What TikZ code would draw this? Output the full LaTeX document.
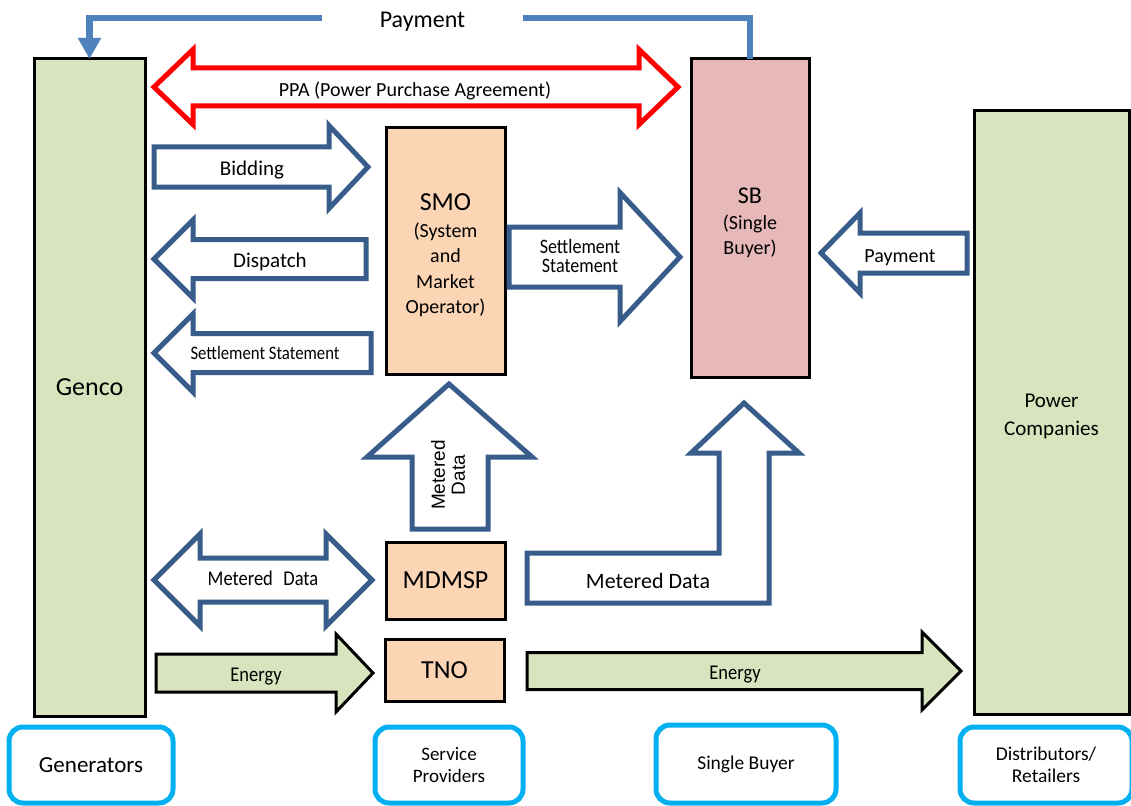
\documentclass[tikz,border=0pt]{standalone}
\usepackage{fontspec}
\setmainfont{Carlito}
\newfontfamily\condfont{Carlito}[FakeStretch=0.88]
\newfontfamily\arialfont{Liberation Sans}
\usepackage{tikz}
\usetikzlibrary{calc, arrows.meta}

\definecolor{gencogreen}{RGB}{215,228,189}
\definecolor{smopeach}{RGB}{252,213,181}
\definecolor{sbpink}{RGB}{230,185,184}
\definecolor{flowblue}{RGB}{56,93,138}
\definecolor{paymentblue}{RGB}{79,129,189}
\definecolor{rolecyan}{RGB}{0,176,240}

\newcommand{\fs}[2]{\fontsize{#1}{#2}\selectfont}

% style, tail, tip, shaft half width, head half width, head length
\newcommand{\flatarrow}[6]{%
	\draw [#1] ($(#2)+(0,{-(#4)})$) -- ($(#3)+({-(#6)},{-(#4)})$) -- ($(#3)+({-(#6)},{-(#5)})$) -- (#3)
		-- ($(#3)+({-(#6)},{#5})$) -- ($(#3)+({-(#6)},{#4})$) -- ($(#2)+(0,{#4})$) -- cycle;
}
% style, left tip, right tip, shaft half width, head half width, head length
\newcommand{\twinarrow}[6]{%
	\draw [#1] (#2) -- ($(#2)+({#6},{-(#5)})$) -- ($(#2)+({#6},{-(#4)})$) -- ($(#3)+({-(#6)},{-(#4)})$)
		-- ($(#3)+({-(#6)},{-(#5)})$) -- (#3) -- ($(#3)+({-(#6)},{#5})$) -- ($(#3)+({-(#6)},{#4})$)
		-- ($(#2)+({#6},{#4})$) -- ($(#2)+({#6},{#5})$) -- cycle;
}

\begin{document}
\begin{tikzpicture}[x=1pt, y=-1pt,
		entity/.style={draw, line width=3, outer sep=0, align=center},
		role/.style={draw=rolecyan, line width=5, rounded corners=14, fill=white, outer sep=0, align=center},
		flow/.style={draw=flowblue, line width=5, fill=white, line join=miter},
		ppa/.style={draw=red, line width=5, fill=white, line join=miter},
		energy/.style={draw=black, line width=3, fill=gencogreen, line join=miter},
		payline/.style={draw=paymentblue, line width=6.5}]
		
		\useasboundingbox (0,0) rectangle (1131,805);
		\clip (0,0) rectangle (1131,805);
		\fill [white] (0,0) rectangle (1131,805);
		
		% market participants
		\node [entity, fill=gencogreen, minimum width=111, minimum height=657, font=\fs{26}{30}] (genco) at (89.5,387.5) {Genco};
		\node [entity, fill=smopeach, minimum width=119, minimum height=246] (smo) at (445.5,251) {};
		\node [align=center, font=\fs{20}{25.5}] (smotxt) at ([yshift=-4.5pt]smo.center)
			{\fs{26}{28}SMO\\[1pt](System\\and\\Market\\Operator)};
		\node [entity, fill=sbpink, minimum width=118, minimum height=318] (sb) at (750,218) {};
		\node [align=center, font=\fs{20}{25}] (sbtxt) at ([yshift=-5pt]sb.center)
			{\fs{24}{26}SB\\[1pt](Single\\Buyer)};
		\node [entity, fill=gencogreen, minimum width=155, minimum height=603] (pc) at (1051.5,412.5) {};
		\node [align=center, font=\fs{21}{28}] (pctxt) at ([yshift=-4pt]pc.center) {Power\\Companies};
		\node [entity, fill=smopeach, minimum width=119, minimum height=77, font=\fs{26}{30}] (mdmsp) at (445.5,580.5) {MDMSP};
		\node [entity, fill=smopeach, minimum width=119, minimum height=62, font=\fs{26}{30}] (tno) at (444.5,670) {TNO};
		
		% roles
		\node [role, minimum width=164, minimum height=76, font=\fs{23}{26}] (generators) at (91,765) {Generators};
		\node [role, minimum width=148, minimum height=76, font=\fs{19}{22}] (providers) at (449,765) {Service\\Providers};
		\node [role, minimum width=180, minimum height=78, font=\fs{19.5}{22}] (buyer) at (746,764) {Single Buyer};
		\node [role, minimum width=172, minimum height=76, font=\fs{19.5}{22}] (retailers) at (1046,765) {Distributors/\\Retailers};
		
		% payment to Genco
		\node [minimum width=201, inner sep=0, font=\fs{24}{28}] (paytxt) at (422.5,22) {Payment};
		\draw [payline] (sb.north) |- ([yshift=4pt]paytxt.east);
		\draw [payline, -{Triangle[width=22pt, length=21pt]}] ([yshift=4pt]paytxt.west) -| (genco.north);
		
		% PPA
		\coordinate (ppa left) at (154,87);
		\coordinate (ppa right) at (678,87);
		\twinarrow{ppa}{ppa left}{ppa right}{19}{37.5}{39}
		\node [font=\fs{20}{24}] (ppatxt) at (415,90.5) {PPA (Power Purchase Agreement)};
		
		% Genco <-> SMO
		\coordinate (bid tail) at (154,167);
		\coordinate (bid tip) at (368,167);
		\flatarrow{flow}{bid tail}{bid tip}{20}{41.5}{39}
		\node [font=\fs{21}{24}] (bidtxt) at (252,170.5) {Bidding};
		
		\coordinate (dis tail) at (366,259);
		\coordinate (dis tip) at (154,259);
		\flatarrow{flow}{dis tail}{dis tip}{19.5}{39}{-39}
		\node [font=\fs{21}{24}] (distxt) at (270,261.5) {Dispatch};
		
		\coordinate (set tail) at (371,353);
		\coordinate (set tip) at (154,353);
		\flatarrow{flow}{set tail}{set tip}{19.5}{39}{-39}
		\node [font=\condfont\fs{19}{22}] (settxt) at (265,353) {Settlement Statement};
		
		% SMO -> SB, Power Companies -> SB
		\coordinate (sbset tail) at (509,257);
		\coordinate (sbset tip) at (680,257);
		\flatarrow{flow}{sbset tail}{sbset tip}{30}{64.5}{60}
		\node [align=center, font=\condfont\fs{20.5}{19}] (sbsettxt) at (580,256) {Settlement\\Statement};
		
		\coordinate (pay tail) at (967,253);
		\coordinate (pay tip) at (821,253);
		\flatarrow{flow}{pay tail}{pay tip}{20}{40}{-39}
		\node [font=\fs{20}{24}] (paycotxt) at (900,257.5) {Payment};
		
		% metered data
		\draw [flow] (412,529) -- (412,457) -- (367,457) -- (449,384) -- (532,457) -- (488,457) -- (488,529) -- cycle;
		\node [rotate=90, align=center, font=\arialfont\fs{19}{20}] (mdup) at (448,475) {Metered\\Data};
		
		\coordinate (md left) at (154,580);
		\coordinate (md right) at (372,580);
		\twinarrow{flow}{md left}{md right}{22}{46}{46}
		\node [font=\condfont\fs{21}{24}] (mdtxt) at (263,578) {Metered\enspace Data};
		
		\draw [flow] (527,553) -- (719,553) -- (719,453) -- (691,453) -- (744,403) -- (799,453) -- (769,453) -- (769,603) -- (527,603) -- cycle;
		\node [font=\fs{22}{26}] (mdsbtxt) at (648,581) {Metered Data};
		
		% energy
		\coordinate (en tail) at (156,673);
		\coordinate (en tip) at (373,673);
		\flatarrow{energy}{en tail}{en tip}{19}{39}{37}
		\node [font=\condfont\fs{21}{24}] (entxt) at (256,677) {Energy};
		
		\coordinate (enpc tail) at (527,671);
		\coordinate (enpc tip) at (961,671);
		\flatarrow{energy}{enpc tail}{enpc tip}{18.5}{39}{39}
		\node [font=\condfont\fs{21}{24}] (enpctxt) at (735,675) {Energy};
	\end{tikzpicture}
\end{document}
